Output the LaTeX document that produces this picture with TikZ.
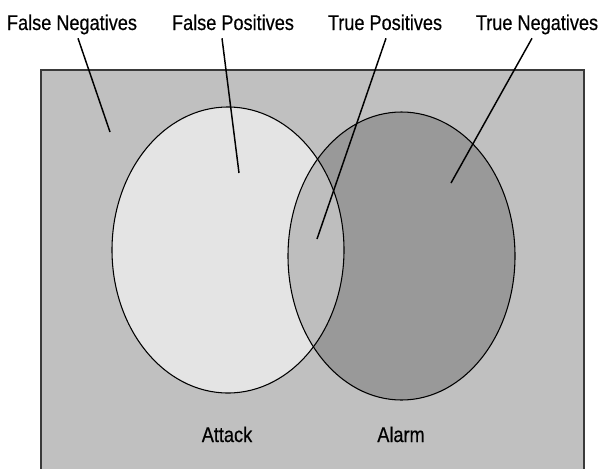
\documentclass[tikz,border=0pt]{standalone}
\usepackage{fontspec}
\setmainfont{Liberation Sans}[FakeStretch=0.85, FakeBold=0.4]
\definecolor{framegray}{HTML}{C0C0C0}
\definecolor{attackfill}{HTML}{E4E4E4}
\definecolor{alarmfill}{HTML}{999999}
\definecolor{bothfill}{HTML}{BEBEBE}
\definecolor{edgegray}{HTML}{3A3A3A}

\begin{document}
\begin{tikzpicture}[x=0.75pt, y=-0.75pt,
    lbl/.style={inner sep=0pt, anchor=base, text depth=6pt, font=\fontsize{16}{19}\selectfont},
    pointer/.style={line width=1.1pt},
    venn/.style={line width=0.8pt}]
  \useasboundingbox (0,0) rectangle (606,468);

  % frame, open at the bottom
  \begin{scope}
    \clip (0,0) rectangle (606,468);
    \draw[fill=framegray, draw=edgegray, line width=1.5pt] (41,70) rectangle (584,480);
  \end{scope}

  % the two sets
  \fill[attackfill] (228,250) ellipse [x radius=116, y radius=143];
  \fill[alarmfill] (401.5,256) ellipse [x radius=113.5, y radius=144];
  \begin{scope}
    \clip (228,250) ellipse [x radius=116, y radius=143];
    \fill[bothfill] (401.5,256) ellipse [x radius=113.5, y radius=144];
  \end{scope}
  \draw[venn] (228,250) ellipse [x radius=116, y radius=143];
  \draw[venn] (401.5,256) ellipse [x radius=113.5, y radius=144];

  \node (attack) [lbl] at (227,442) {Attack};
  \node (alarm) [lbl] at (401,442) {Alarm};

  % labels on top
  \node (fn) [lbl] at (72,30) {False Negatives};
  \node (fp) [lbl] at (233,30) {False Positives};
  \node (tp) [lbl] at (385,30) {True Positives};
  \node (tn) [lbl] at (537,30) {True Negatives};

  \coordinate (fnpt) at (110,132);
  \coordinate (fppt) at (239,173);
  \coordinate (tppt) at (317,239);
  \coordinate (tnpt) at (451,183);

  \draw[pointer] ([xshift=4.5pt]fn.south) -- (fnpt);
  \draw[pointer] ([xshift=-8.25pt]fp.south) -- (fppt);
  \draw[pointer] ([xshift=0.75pt]tp.south) -- (tppt);
  \draw[pointer] ([xshift=-3.75pt]tn.south) -- (tnpt);
\end{tikzpicture}
\end{document}
